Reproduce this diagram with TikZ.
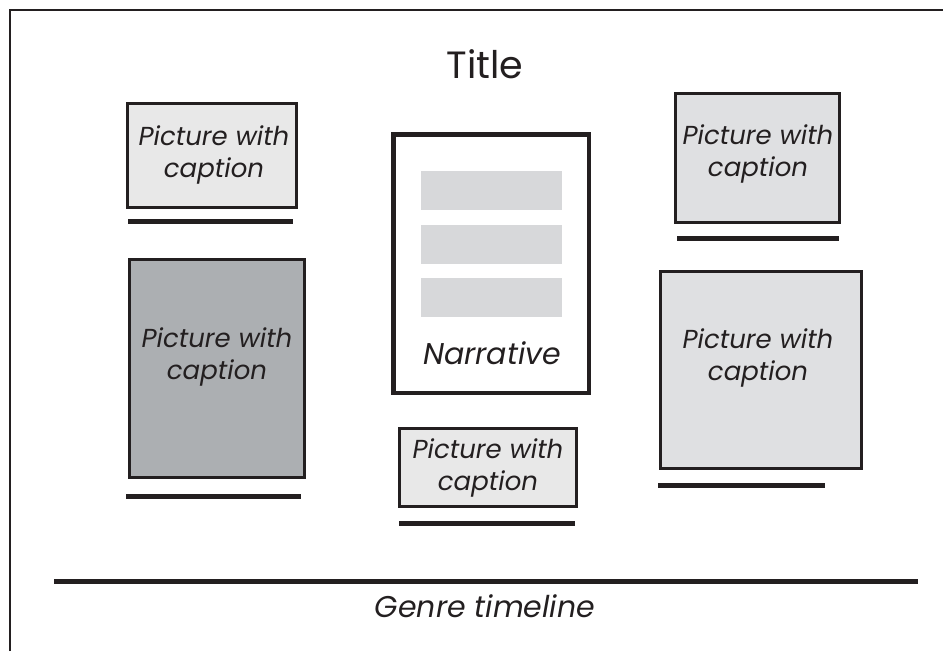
\documentclass[tikz,border=0pt]{standalone}
\usepackage{fontspec}
\setmainfont{Poppins}
\definecolor{inkblack}{HTML}{231F20}
\definecolor{palegray}{HTML}{E8E8E8}
\definecolor{lightgray}{HTML}{DFE0E2}
\definecolor{darkgray}{HTML}{ACAFB2}
\definecolor{bargray}{HTML}{D7D8DA}
\tikzset{
  picbox/.style={draw=inkblack, line width=2.5pt, inner sep=0pt},
  narrbox/.style={draw=inkblack, line width=4.5pt, fill=white, inner sep=0pt},
  textbar/.style={fill=bargray, inner sep=0pt, minimum width=141pt, minimum height=39pt},
  capbar/.style={draw=inkblack, line width=5pt},
  captext/.style={font=\fontsize{26}{32}\selectfont\itshape, align=center, anchor=base, text=inkblack},
}
\begin{document}
\begin{tikzpicture}[x=1pt, y=-1pt]
            \useasboundingbox (0,0) rectangle (943,651);
            \draw [inkblack, line width=2.5pt] (10,651) -- (10,10) -- (943,10);
            \node [font=\fontsize{38}{44}\selectfont, anchor=base, text=inkblack] (title) at (485,78) {Title};
            % left column
            \node [picbox, fill=palegray, minimum width=169pt, minimum height=104pt] (picA) at (212,155.5) {};
            \node [captext] (capA) at (214,177) {Picture with\\caption};
            \draw [capbar] (128,221.5) -- (293,221.5);
            \node [picbox, fill=darkgray, minimum width=175pt, minimum height=218pt] (picB) at (217,368.5) {};
            \node [captext] (capB) at (217,379) {Picture with\\caption};
            \draw [capbar] (126,496.5) -- (301,496.5);
            % middle column
            \node [narrbox, minimum width=195.5pt, minimum height=258.5pt] (narr) at (491,263.5) {};
            \foreach \y [count=\i] in {190.5,244.5,297.5}
                \node [textbar] (bar\i) at (491.5,\y) {};
            \node [captext, font=\fontsize{30}{36}\selectfont\itshape] (narrtext) at (492,364) {Narrative};
            \node [picbox, fill=palegray, minimum width=177pt, minimum height=78pt] (picC) at (488,467.5) {};
            \node [captext] (capC) at (488,490) {Picture with\\caption};
            \draw [capbar] (399,523.5) -- (575,523.5);
            % right column
            \node [picbox, fill=lightgray, minimum width=164pt, minimum height=129pt] (picD) at (757.5,158) {};
            \node [captext] (capD) at (758,176) {Picture with\\caption};
            \draw [capbar] (677,238.5) -- (839,238.5);
            \node [picbox, fill=lightgray, minimum width=201pt, minimum height=197pt] (picE) at (761,370) {};
            \node [captext] (capE) at (758,380) {Picture with\\caption};
            \draw [capbar] (658,485.5) -- (825,485.5);
            % timeline
            \draw [capbar] (54,581.5) -- (918,581.5);
            \node [captext, font=\fontsize{30}{36}\selectfont\itshape] (genre) at (485,617) {Genre timeline};
        \end{tikzpicture}
\end{document}
